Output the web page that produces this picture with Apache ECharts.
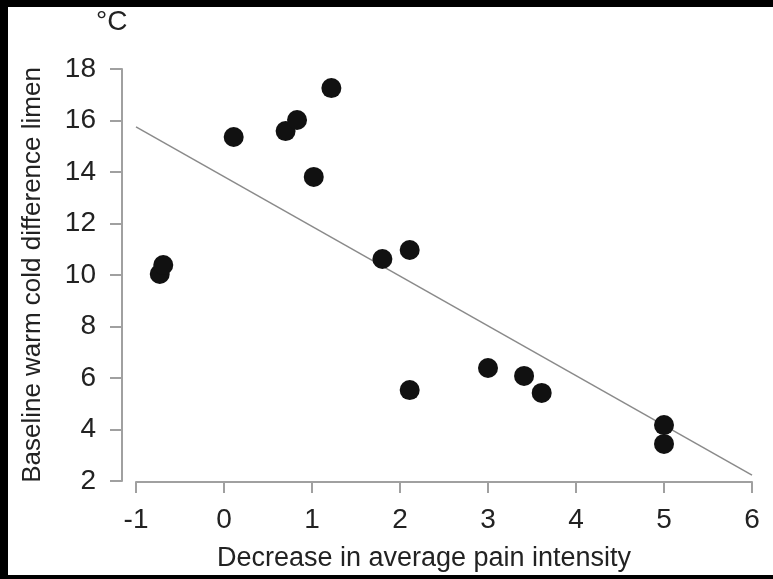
<!DOCTYPE html>
<html>
<head>
<meta charset="utf-8">
<script src="https://cdn.jsdelivr.net/npm/echarts@6/dist/echarts.min.js"></script>
<style>
html,body{margin:0;padding:0;background:#fff;}
#chart{width:773px;height:579px;}
</style>
</head>
<body>
<div id="chart"></div>
<script>
var xTicks = [-1, 0, 1, 2, 3, 4, 5, 6];
var yTicks = [2, 4, 6, 8, 10, 12, 14, 16, 18];
var painDecrease = [-0.73, -0.69, 0.11, 0.70, 0.83, 1.22, 1.02, 1.80, 2.11, 2.11, 3.00, 3.41, 3.61, 5.00, 5.00];
var limen =        [10.04, 10.39, 15.36, 15.59, 16.02, 17.26, 13.81, 10.62, 10.97, 5.53, 6.39, 6.08, 5.42, 4.17, 3.44];
var trendX = [-1, 6];
var trendY = [15.75, 2.23];
var xTitle = 'Decrease in average pain intensity';
var yTitle = 'Baseline warm cold difference limen';
var unitLabel = '°C';

var font = '"Liberation Sans", Arial, sans-serif';
var narrow = '"Liberation Sans Narrow", "Liberation Sans", sans-serif';
var chart = echarts.init(document.getElementById('chart'));
chart.setOption({
  animation: false,
  backgroundColor: '#fff',
  grid: {left: 136, right: 21, top: 69, bottom: 98, containLabel: false},
  xAxis: {
    type: 'value', min: xTicks[0], max: xTicks[xTicks.length - 1], interval: 1,
    offset: 1,
    name: xTitle,
    nameLocation: 'middle', nameGap: 63,
    nameTextStyle: {fontFamily: font, fontSize: 27, color: '#222', padding: [0, 40, 0, 0]},
    axisLine: {show: true, onZero: false, lineStyle: {color: '#a0a0a0', width: 2}},
    axisTick: {show: true, length: 11, lineStyle: {color: '#a0a0a0', width: 2}},
    axisLabel: {fontFamily: narrow, fontSize: 28, color: '#222', margin: 24},
    splitLine: {show: false}
  },
  yAxis: {
    type: 'value', min: yTicks[0], max: yTicks[yTicks.length - 1], interval: 2,
    offset: 14,
    name: yTitle,
    nameLocation: 'middle', nameGap: 76, nameRotate: 90,
    nameTextStyle: {fontFamily: font, fontSize: 26, color: '#222'},
    axisLine: {show: true, onZero: false, lineStyle: {color: '#a0a0a0', width: 2}},
    axisTick: {show: true, length: 12, lineStyle: {color: '#a0a0a0', width: 2}},
    axisLabel: {fontFamily: narrow, fontSize: 28, color: '#222', margin: 26},
    splitLine: {show: false}
  },
  graphic: [
    {type: 'text', x: 96, y: 22,
     style: {text: unitLabel, font: '28px ' + narrow, fill: '#222', textAlign: 'left', textVerticalAlign: 'middle'}},
    {type: 'rect', shape: {x: 0, y: 0, width: 773, height: 7}, style: {fill: '#000'}},
    {type: 'rect', shape: {x: 0, y: 0, width: 8, height: 579}, style: {fill: '#000'}},
    {type: 'rect', shape: {x: 0, y: 575, width: 773, height: 4}, style: {fill: '#000'}}
  ],
  series: [
    {
      type: 'line',
      data: trendX.map(function (x, i) { return [x, trendY[i]]; }),
      symbol: 'none',
      lineStyle: {color: '#8a8a8a', width: 1.5},
      z: 1
    },
    {
      type: 'scatter',
      data: painDecrease.map(function (x, i) { return [x, limen[i]]; }),
      symbol: 'circle', symbolSize: 20,
      itemStyle: {color: '#111', opacity: 1},
      z: 2
    }
  ]
});
</script>
</body>
</html>
